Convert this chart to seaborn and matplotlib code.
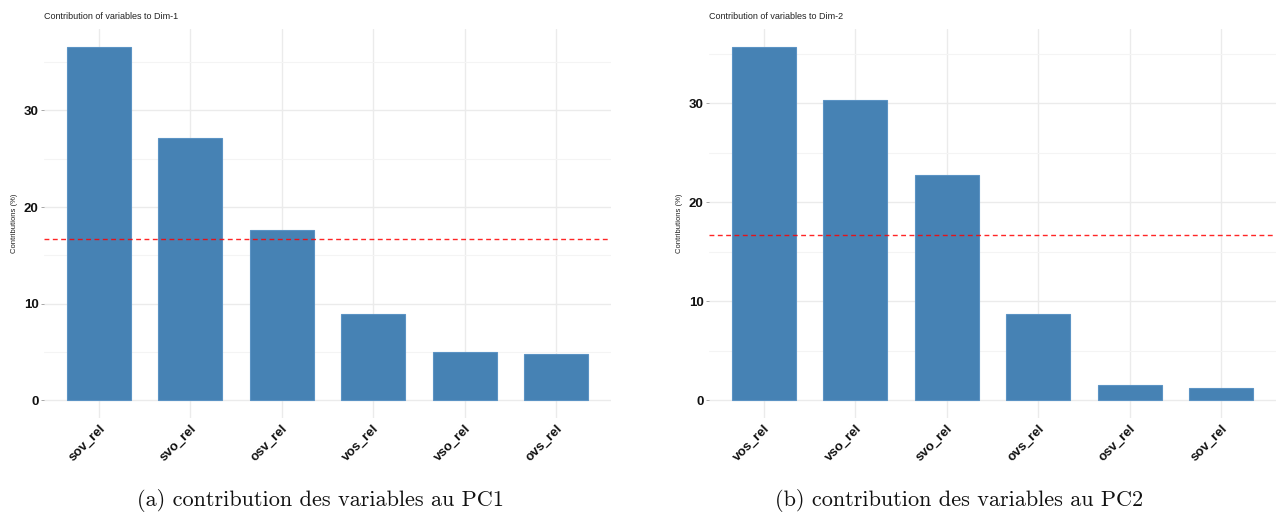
import matplotlib
matplotlib.use("Agg")
import matplotlib.pyplot as plt
import seaborn as sns
import pandas as pd
from matplotlib.ticker import MultipleLocator

# Contributions (%) of each variable to the first two principal components
pc1_vars = ["sov_rel", "svo_rel", "osv_rel", "vos_rel", "vso_rel", "ovs_rel"]
pc1_contrib = [36.6, 27.2, 17.6, 8.9, 5.0, 4.8]

pc2_vars = ["vos_rel", "vso_rel", "svo_rel", "ovs_rel", "osv_rel", "sov_rel"]
pc2_contrib = [35.7, 30.3, 22.7, 8.7, 1.5, 1.2]

# Expected average contribution if all variables were uniform
expected = 100.0 / 6

titles = ["Contribution of variables to Dim-1", "Contribution of variables to Dim-2"]
captions = ["(a) contribution des variables au PC1", "(b) contribution des variables au PC2"]

sns.set_theme(style="white")
plt.rcParams["font.family"] = ["Liberation Sans", "DejaVu Sans"]

W, H = 1278, 516
fig = plt.figure(figsize=(W / 100, H / 100), dpi=100)

axes_px = [(44, 29, 567, 389), (709, 29, 567, 389)]
caption_x = [320, 959]

panels = [(pc1_vars, pc1_contrib), (pc2_vars, pc2_contrib)]

for i, ((cats, vals), (x0, y0, w, h)) in enumerate(zip(panels, axes_px)):
    ax = fig.add_axes([x0 / W, 1 - (y0 + h) / H, w / W, h / H])
    df = pd.DataFrame({"variable": cats, "contribution": vals})
    sns.barplot(data=df, x="variable", y="contribution", order=cats,
                color="steelblue", saturation=1, width=0.7,
                edgecolor="#5b93c4", linewidth=0.8, ax=ax, zorder=3)
    top = max(vals)
    ax.set_xlim(-0.6, len(cats) - 0.4)
    ax.set_ylim(-0.05 * top, 1.05 * top)

    ax.axhline(expected, color="#ff0000", linestyle=(0, (3.5, 2.5)), linewidth=1.0,
               alpha=0.85, zorder=4)

    ax.yaxis.set_major_locator(MultipleLocator(10))
    ax.yaxis.set_minor_locator(MultipleLocator(5))
    ax.grid(which="major", axis="both", color="#ebebeb", linewidth=1.0, zorder=0)
    ax.grid(which="minor", axis="y", color="#f4f4f4", linewidth=0.8, zorder=0)
    ax.set_axisbelow(True)
    for s in ax.spines.values():
        s.set_visible(False)

    ax.tick_params(axis="y", which="major", length=2.5, width=0.6, color="#999999",
                   pad=1.5, labelsize=9.5, left=True)
    ax.tick_params(axis="y", which="minor", length=0)
    ax.tick_params(axis="x", length=0, pad=3, labelsize=9.5)
    for lab in ax.get_yticklabels():
        lab.set_fontweight("bold")
        lab.set_color("#111111")
    for lab in ax.get_xticklabels():
        lab.set_fontweight("bold")
        lab.set_color("#111111")
        lab.set_rotation(45)
        lab.set_ha("right")
        lab.set_va("top")
        lab.set_rotation_mode("anchor")

    ax.set_xlabel("")
    ax.set_ylabel("Contributions (%)", fontsize=5.5, color="#222222", labelpad=4)
    ax.set_title(titles[i], loc="left", fontsize=6.5, color="#222222", pad=7)

    fig.text(caption_x[i] / W, 1 - 500 / H, captions[i], ha="center", va="center",
             fontsize=16, family=["cmr10", "DejaVu Serif"], color="#111111")

fig.savefig("out.png", dpi=100)
